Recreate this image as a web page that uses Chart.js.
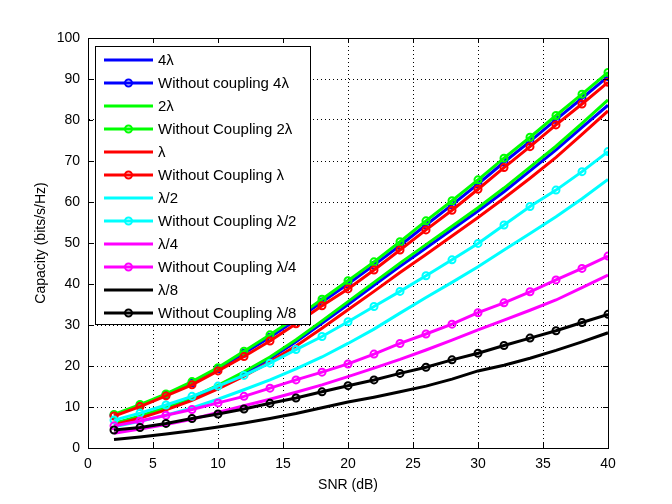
<!DOCTYPE html>
<html>
<head>
<meta charset="utf-8">
<title>Capacity vs SNR</title>
<script src="https://cdn.jsdelivr.net/npm/chart.js@4.4.0/dist/chart.umd.min.js"></script>
<style>
    html, body { margin: 0; padding: 0; background: #fff; }
    #wrap { width: 672px; height: 504px; }
</style>
</head>
<body>
<div id="wrap"><canvas id="capacity-chart" width="672" height="504"></canvas></div>
<script>
// SNR points (dB)
const snrDb = [2, 4, 6, 8, 10, 12, 14, 16, 18, 20, 22, 24, 26, 28, 30, 32, 34, 36, 38, 40];

// capacity (bits/s/Hz)
const cap4Lambda       = [5.9, 7.6, 9.7, 12.1, 15.0, 18.2, 21.8, 25.9, 30.4, 35.0, 39.7, 44.3, 48.8, 53.3, 57.8, 62.5, 67.6, 72.7, 78.2, 83.6];
const capNoCoup4Lambda = [8.0, 10.4, 13.0, 15.9, 19.3, 23.1, 27.0, 31.2, 35.6, 40.0, 44.6, 49.4, 54.4, 59.3, 64.4, 69.7, 74.8, 80.1, 85.3, 90.6];
const cap2Lambda       = [6.0, 7.8, 9.9, 12.4, 15.3, 18.6, 22.2, 26.4, 31.0, 35.7, 40.4, 45.1, 49.6, 54.1, 58.6, 63.4, 68.5, 73.6, 79.2, 84.9];
const capNoCoup2Lambda = [8.2, 10.6, 13.2, 16.2, 19.6, 23.6, 27.6, 31.8, 36.3, 40.8, 45.4, 50.3, 55.4, 60.3, 65.4, 70.7, 75.8, 81.1, 86.3, 91.6];
const capLambda        = [5.6, 7.3, 9.3, 11.6, 14.4, 17.5, 21.0, 24.9, 29.2, 33.7, 38.2, 42.8, 47.2, 51.7, 56.2, 60.9, 65.8, 70.9, 76.5, 82.2];
const capNoCoupLambda  = [7.8, 10.1, 12.7, 15.4, 18.8, 22.3, 26.1, 30.3, 34.7, 38.8, 43.4, 48.3, 53.2, 58.0, 63.1, 68.4, 73.5, 78.8, 83.9, 89.2];
const capHalf          = [5.2, 6.5, 8.0, 9.8, 11.9, 14.2, 16.6, 19.3, 22.2, 25.5, 29.0, 32.9, 36.7, 40.4, 44.2, 48.3, 52.3, 56.4, 60.8, 65.5];
const capNoCoupHalf    = [6.8, 8.5, 10.5, 12.6, 15.1, 17.7, 20.7, 24.0, 27.2, 30.8, 34.5, 38.2, 42.0, 45.9, 49.9, 54.4, 58.9, 62.9, 67.4, 72.3];
const capQuarter       = [3.6, 4.6, 5.7, 7.0, 8.7, 10.3, 11.9, 13.6, 15.4, 17.4, 19.5, 21.6, 23.9, 26.3, 28.8, 31.2, 33.6, 36.1, 39.1, 42.2];
const capNoCoupQuarter = [5.4, 6.6, 8.0, 9.4, 11.0, 12.6, 14.6, 16.6, 18.5, 20.5, 22.9, 25.5, 27.8, 30.2, 33.0, 35.4, 38.1, 41.0, 43.8, 46.8];
const capEighth        = [2.1, 2.7, 3.4, 4.2, 5.1, 6.1, 7.2, 8.4, 9.8, 11.2, 12.4, 13.7, 15.1, 16.8, 18.8, 20.2, 21.9, 23.8, 25.9, 28.1];
const capNoCoupEighth  = [4.4, 5.0, 6.0, 7.2, 8.3, 9.5, 10.9, 12.2, 13.7, 15.2, 16.6, 18.2, 19.7, 21.5, 23.1, 25.0, 26.8, 28.6, 30.6, 32.6];

const seriesLabels = ['4λ', 'Without coupling 4λ', '2λ', 'Without Coupling 2λ', 'λ', 'Without Coupling λ',
    'λ/2', 'Without Coupling λ/2', 'λ/4', 'Without Coupling λ/4', 'λ/8', 'Without Coupling λ/8'];
const seriesValues = [cap4Lambda, capNoCoup4Lambda, cap2Lambda, capNoCoup2Lambda, capLambda, capNoCoupLambda,
    capHalf, capNoCoupHalf, capQuarter, capNoCoupQuarter, capEighth, capNoCoupEighth];
const seriesColors = ['#0000ff', '#0000ff', '#00ff00', '#00ff00', '#ff0000', '#ff0000',
    '#00ffff', '#00ffff', '#ff00ff', '#ff00ff', '#000000', '#000000'];

const xTicks = [0, 5, 10, 15, 20, 25, 30, 35, 40];
const yTicks = [0, 10, 20, 30, 40, 50, 60, 70, 80, 90, 100];

const FONT = '"Liberation Sans", Arial, Helvetica, sans-serif';

function buildDatasets() {
    return seriesValues.map(function(vals, i) {
        let withMarker = i % 2 === 1;
        return {
            label: seriesLabels[i],
            data: vals.map((v, k) => ({ x: snrDb[k], y: v })),
            borderColor: seriesColors[i],
            backgroundColor: seriesColors[i],
            borderWidth: 3,
            pointRadius: withMarker ? 3.5 : 0,
            pointBorderWidth: 2,
            pointBorderColor: seriesColors[i],
            pointBackgroundColor: 'rgba(0,0,0,0)',
            pointStyle: 'circle',
            tension: 0,
            fill: false,
            order: seriesValues.length - i   // later series drawn on top, like matlab
        };
    });
}

// matlab-like axes box, inward ticks and the boxed legend
const matlabAxes = {
    id: 'matlabAxes',
    afterDraw(chart) {
        const ctx = chart.ctx;
        const a = chart.chartArea;
        const xs = chart.scales.x, ys = chart.scales.y;
        const tickLen = 5;
        ctx.save();
        ctx.strokeStyle = '#000';
        ctx.lineWidth = 1;
        ctx.setLineDash([]);
        ctx.beginPath();
        xTicks.forEach(function(t) {
            let px = Math.round(xs.getPixelForValue(t)) + 0.5;
            ctx.moveTo(px, a.bottom); ctx.lineTo(px, a.bottom - tickLen);
            ctx.moveTo(px, a.top); ctx.lineTo(px, a.top + tickLen);
        });
        yTicks.forEach(function(t) {
            let py = Math.round(ys.getPixelForValue(t)) + 0.5;
            ctx.moveTo(a.left, py); ctx.lineTo(a.left + tickLen, py);
            ctx.moveTo(a.right, py); ctx.lineTo(a.right - tickLen, py);
        });
        ctx.stroke();
        ctx.strokeRect(Math.round(a.left) + 0.5, Math.round(a.top) + 0.5,
            Math.round(a.right - a.left), Math.round(a.bottom - a.top));

        // legend
        const lx = Math.round(a.left) + 7, ly = Math.round(a.top) + 8;
        const lw = 215, rowH = 23;
        const lh = 14 + rowH * (chart.data.datasets.length - 1) + 11;
        ctx.fillStyle = '#fff';
        ctx.fillRect(lx, ly, lw, lh);
        ctx.strokeRect(lx + 0.5, ly + 0.5, lw, lh);
        ctx.font = '15px ' + FONT;
        ctx.textBaseline = 'middle';
        chart.data.datasets.forEach(function(ds, i) {
            let y = ly + 14 + i * rowH;
            ctx.strokeStyle = ds.borderColor;
            ctx.lineWidth = ds.borderWidth;
            ctx.beginPath();
            ctx.moveTo(lx + 9, y); ctx.lineTo(lx + 58, y);
            ctx.stroke();
            if (ds.pointRadius > 0) {
                ctx.lineWidth = ds.pointBorderWidth;
                ctx.beginPath();
                ctx.arc(lx + 33.5, y, ds.pointRadius, 0, Math.PI * 2);
                ctx.stroke();
            }
            ctx.fillStyle = '#000';
            ctx.fillText(ds.label, lx + 63, y + 1);
        });
        ctx.restore();
    }
};

const ctx = document.getElementById('capacity-chart').getContext('2d');
window.capChart = new Chart(ctx, {
    type: 'line',
    data: { datasets: buildDatasets() },
    options: {
        responsive: false,
        animation: false,
        devicePixelRatio: 1,
        layout: { padding: { left: 0, right: 64, top: 38, bottom: 0 } },
        plugins: {
            legend: { display: false },
            tooltip: { enabled: false }
        },
        scales: {
            x: {
                type: 'linear',
                min: 0,
                max: 40,
                afterBuildTicks: function(scale) { scale.ticks = xTicks.map(v => ({ value: v })); },
                afterFit: function(scale) { scale.height = 56; },
                grid: { color: '#000', lineWidth: 1, drawTicks: false },
                border: { display: true, color: '#000', width: 1, dash: [1, 3] },
                ticks: { color: '#000', padding: 8, maxRotation: 0, font: { family: FONT, size: 14 } },
                title: {
                    display: true,
                    text: 'SNR (dB)',
                    color: '#000',
                    font: { family: FONT, size: 14 },
                    padding: { top: 0, bottom: 10 }
                }
            },
            y: {
                min: 0,
                max: 100,
                afterBuildTicks: function(scale) { scale.ticks = yTicks.map(v => ({ value: v })); },
                afterFit: function(scale) { scale.width = 88; },
                grid: { color: '#000', lineWidth: 1, drawTicks: false },
                border: { display: true, color: '#000', width: 1, dash: [1, 3] },
                ticks: { color: '#000', padding: 8, font: { family: FONT, size: 14 } },
                title: {
                    display: true,
                    text: 'Capacity (bits/s/Hz)',
                    color: '#000',
                    font: { family: FONT, size: 14 },
                    padding: { top: 33, bottom: 0 }
                }
            }
        }
    },
    plugins: [matlabAxes]
});
</script>
</body>
</html>
